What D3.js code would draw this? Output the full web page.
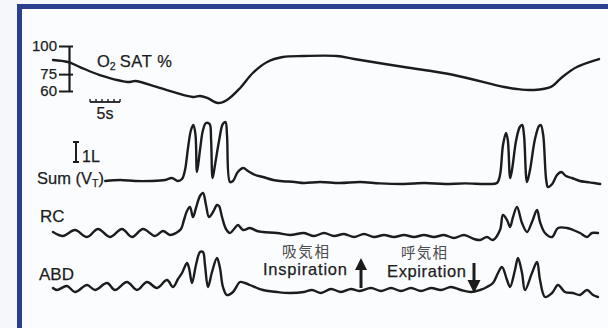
<!DOCTYPE html>
<html>
<head>
<meta charset="utf-8">
<script src="https://cdn.jsdelivr.net/npm/d3@7"></script>
<style>
  html, body { margin: 0; padding: 0; background: #f6f7fa; }
  svg { display: block; }
  text { font-family: "Liberation Sans", Arial, Helvetica, sans-serif; fill: #1d1d1d; stroke: #1d1d1d; stroke-width: 0.25; }
  .jp { font-family: "Noto Sans CJK JP", "Noto Sans CJK SC", sans-serif; fill: #4d4d4d; stroke: none; }
</style>
</head>
<body>
<svg id="chart" width="608" height="328"></svg>
<script>
// Oxygen saturation (%) over time (s)
const satTime   = [0, 2.5, 4.5, 7.8, 12.8, 13.7, 17.8, 23.3, 24.5, 25.7, 27.5, 29.0, 31.2, 33.3, 35.7, 38.3, 41.8, 47.3, 50.2, 58.5, 66.8, 75.2, 77.3, 80.2, 83.0, 84.7, 87.3, 91.0];
const satValues = [87.6, 85.8, 81.3, 74.2, 68.0, 68.9, 62.7, 54.7, 55.6, 53.8, 49.3, 52.0, 62.7, 76.0, 85.8, 90.2, 91.1, 91.1, 88.4, 81.3, 74.2, 63.6, 61.8, 60.9, 63.6, 71.6, 81.3, 88.4];
const satTicks  = [100, 75, 60];

// Summed tidal volume (L) over time (s)
const sumTime   = [8.7, 11.2, 13.7, 16.2, 18.7, 19.8, 20.8, 21.5, 22.0, 22.5, 23.0, 23.4, 23.75, 24.0, 24.5, 25.0, 25.5, 26.1, 26.35, 26.6, 27.0, 27.7, 28.3, 28.75, 29.0, 29.5, 30.0, 30.8, 31.7, 32.5, 33.7, 35.0, 36.7, 37.8, 40.3, 41.8, 44.5, 47.8, 51.2, 54.5, 58.5, 62.0, 65.3, 68.7, 72.3, 74.0, 74.5, 75.0, 75.5, 75.8, 76.2, 76.5, 77.2, 77.8, 78.2, 78.5, 79.0, 79.5, 80.3, 81.0, 81.3, 81.7, 82.2, 82.5, 83.2, 84.0, 84.7, 85.5, 86.5, 87.8, 89.0, 90.2, 91.2];
const sumVolume = [0, 0.05, 0, 0, 0.05, 0.15, 0, 0.1, 0.55, 1.65, 2.55, 2.8, 2.3, 0.45, 1.55, 2.55, 2.9, 2.85, 2.05, 0.15, 0.8, 2.05, 2.85, 2.95, 2.3, -0.05, 0, 0.45, 0.65, 0.5, 0.3, 0.2, 0.05, 0, -0.05, -0.1, -0.05, -0.1, -0.05, -0.12, -0.15, -0.1, -0.15, -0.12, -0.15, -0.1, 0.3, 1.8, 2.4, 2.05, 0.15, 0.55, 2.05, 2.7, 2.8, 2.3, -0.05, 0.55, 2.05, 2.75, 2.8, 2.3, 0.05, -0.3, -0.15, 0.3, 0.45, 0.25, 0.15, 0, -0.05, -0.1, -0.15];

// Rib cage band (L) over time (s)
const rcTime    = [0, 1.67, 3.67, 5.67, 7.5, 9.5, 11.5, 13.17, 15.0, 17.0, 18.33, 19.5, 20.5, 21.33, 21.83, 22.33, 22.83, 23.33, 23.83, 24.5, 25.0, 25.5, 26.0, 26.67, 27.33, 27.67, 28.17, 28.83, 29.5, 30.17, 30.83, 31.67, 32.83, 34.0, 35.0, 37.33, 39.5, 41.83, 43.5, 45.17, 46.83, 48.5, 50.17, 51.83, 53.5, 55.17, 56.83, 58.5, 60.17, 61.83, 63.5, 65.17, 66.83, 68.5, 70.17, 71.17, 72.33, 73.33, 74.5, 75.0, 75.67, 76.17, 76.67, 77.33, 78.17, 79.0, 79.83, 80.67, 81.17, 82.0, 83.17, 84.17, 85.67, 86.67, 87.83, 89.0, 89.83, 90.83];
const rcValues  = [0.1, -0.1, 0.2, -0.15, 0.25, -0.15, 0.25, -0.15, 0.25, -0.1, 0.15, -0.05, 0.05, 0.25, 0.7, 1.15, 1.35, 0.85, 1.3, 1.9, 2.05, 1.45, 0.85, 1.1, 1.45, 1.4, 0.85, 0.25, 0.05, 0.25, 0.45, 0.2, 0.3, 0.15, 0.1, 0.05, -0.05, 0.05, -0.1, 0.05, -0.1, 0, -0.15, 0, -0.15, -0.05, -0.15, -0.05, -0.15, -0.05, -0.15, -0.05, -0.2, -0.05, -0.25, -0.3, -0.15, -0.3, 0.2, 0.95, 0.7, 0.35, 0.85, 1.35, 0.55, 0.1, 0.6, 1.2, 0.6, 0.05, -0.15, 0.3, 0.3, 0.2, 0.05, -0.15, 0.05, 0.05];

// Abdominal band (L) over time (s)
const abdTime   = [0, 0.67, 2.33, 3.67, 5.67, 7.0, 9.0, 10.33, 12.33, 14.0, 15.67, 17.33, 19.0, 20.0, 20.83, 21.5, 22.33, 22.67, 23.17, 23.83, 24.5, 25.0, 25.33, 25.83, 26.5, 27.33, 27.83, 28.33, 29.0, 30.0, 31.17, 32.0, 32.83, 34.0, 35.0, 37.33, 39.5, 41.83, 43.17, 44.67, 46.33, 48.0, 49.67, 51.0, 53.0, 54.67, 56.33, 58.0, 59.67, 61.33, 63.0, 64.67, 66.33, 68.0, 69.67, 71.17, 72.33, 73.33, 74.17, 74.83, 75.67, 76.17, 77.0, 77.5, 78.17, 78.67, 79.83, 80.67, 81.17, 82.0, 83.17, 84.17, 85.33, 86.67, 87.83, 89.0, 90.0, 90.83];
const abdValues = [0.1, 0, 0.2, -0.1, 0.25, 0, 0.35, 0, 0.4, 0, 0.4, 0.1, 0.5, 0.15, 0.55, 0.85, 1.35, 1.1, 0.35, 1.25, 1.9, 1.9, 1.25, 0.15, 0.9, 1.6, 1.1, 0.15, -0.25, -0.1, 0.4, 0.35, 0.25, 0.1, 0, -0.1, -0.15, -0.1, 0, -0.15, 0.05, -0.1, 0.05, -0.05, 0.1, -0.05, 0.1, -0.05, 0.1, -0.05, 0.1, 0, 0.15, 0, -0.1, 0, 0.15, 0.35, 0.85, 1.15, 0.5, 0.15, 1.0, 1.6, 0.85, 0, 0.85, 1.4, 0.5, -0.35, -0.15, 0.25, -0.1, -0.15, -0.25, 0, -0.25, -0.35];

const timeBarSeconds = 5;
const volumeBarLitres = 1;

const svg = d3.select("#chart");
const ink = "#1c1c1c";

// Panel frame
svg.append("rect")
  .attr("x", 19.5).attr("y", 6.5)
  .attr("width", 700).attr("height", 400)
  .attr("fill", "#fbfcfd")
  .attr("stroke", "#2b3f8e").attr("stroke-width", 5);

// Scales
const x = d3.scaleLinear().domain([0, 91.5]).range([53, 602]);
const ySat = d3.scaleLinear().domain([60, 100]).range([91, 46]);
const ySum = d3.scaleLinear().domain([0, 1]).range([181, 161]);
const yRC  = d3.scaleLinear().domain([0, 1]).range([234, 214]);
const yABD = d3.scaleLinear().domain([0, 1]).range([290, 270]);

const curve = d3.curveCatmullRom.alpha(0.5);
function trace(times, values, yScale) {
  const pts = times.map((t, i) => [t, values[i]]);
  svg.append("path")
    .datum(pts)
    .attr("fill", "none")
    .attr("stroke", ink)
    .attr("stroke-width", 2.4)
    .attr("stroke-linejoin", "round")
    .attr("stroke-linecap", "round")
    .attr("d", d3.line().x(d => x(d[0])).y(d => yScale(d[1])).curve(curve));
}

// SpO2 calibration axis
const satAxis = svg.append("g")
  .attr("transform", "translate(69,0)")
  .call(d3.axisLeft(ySat).tickValues(satTicks).tickSizeOuter(0).tickSizeInner(10).tickPadding(2));
satAxis.attr("font-family", null).attr("font-size", null);
satAxis.select(".domain").attr("stroke", ink).attr("stroke-width", 2.2);
satAxis.selectAll(".tick line").attr("stroke", ink).attr("stroke-width", 2).attr("x1", 4).attr("x2", -10);
satAxis.selectAll(".tick text").attr("font-size", 15).attr("fill", ink);

trace(satTime, satValues, ySat);
trace(sumTime, sumVolume, ySum);
trace(rcTime, rcValues, yRC);
trace(abdTime, abdValues, yABD);

// O2 SAT label
const o2 = svg.append("text").attr("x", 97).attr("y", 67).attr("font-size", 16.5);
o2.append("tspan").text("O");
o2.append("tspan").attr("font-size", 10.5).attr("dy", 3).text("2");
o2.append("tspan").attr("dy", -3).attr("dx", 4).attr("letter-spacing", 0.6).text("SAT %");

// 5 s time bar with 1 s ruler ticks
const tb0 = 6.17;
const barY = 102;
svg.append("line")
  .attr("x1", x(tb0)).attr("x2", x(tb0 + timeBarSeconds))
  .attr("y1", barY).attr("y2", barY)
  .attr("stroke", ink).attr("stroke-width", 1.8);
d3.range(0, timeBarSeconds + 1).forEach(s => {
  svg.append("line")
    .attr("x1", x(tb0 + s)).attr("x2", x(tb0 + s))
    .attr("y1", barY).attr("y2", barY - 3)
    .attr("stroke", ink).attr("stroke-width", 1.4);
});
svg.append("text").attr("x", x(tb0 + timeBarSeconds / 2)).attr("y", 119)
  .attr("text-anchor", "middle").attr("font-size", 16).text(timeBarSeconds + "s");

// 1 L volume bar
const vbTop = 142;
const vbH = ySum(0) - ySum(volumeBarLitres);
svg.append("path")
  .attr("d", `M73,${vbTop}H79M76,${vbTop}V${vbTop + vbH}M73,${vbTop + vbH}H79`)
  .attr("stroke", ink).attr("stroke-width", 2).attr("fill", "none");
svg.append("text").attr("x", 82).attr("y", 162).attr("font-size", 16)
  .text(volumeBarLitres + "L");

// Channel labels
const sumLabel = svg.append("text").attr("x", 37).attr("y", 184).attr("font-size", 16.5);
sumLabel.append("tspan").text("Sum (V");
sumLabel.append("tspan").attr("font-size", 10.5).attr("dy", 3).text("T");
sumLabel.append("tspan").attr("dy", -3).text(")");
svg.append("text").attr("x", 40).attr("y", 222).attr("font-size", 17).text("RC");
svg.append("text").attr("x", 39).attr("y", 280).attr("font-size", 17).text("ABD");

// Phase annotations
svg.append("text").attr("class", "jp").attr("x", 282).attr("y", 257).attr("font-size", 14.5)
  .attr("textLength", 47).attr("lengthAdjust", "spacing").text("吸気相");
svg.append("text").attr("x", 263).attr("y", 275).attr("font-size", 16.5)
  .attr("textLength", 84).attr("lengthAdjust", "spacing").text("Inspiration");
svg.append("text").attr("class", "jp").attr("x", 401).attr("y", 258).attr("font-size", 14.5)
  .attr("textLength", 46).attr("lengthAdjust", "spacing").text("呼気相");
svg.append("text").attr("x", 387).attr("y", 277).attr("font-size", 16.5)
  .attr("textLength", 79).attr("lengthAdjust", "spacing").text("Expiration");

// Inspiration (up) and expiration (down) arrows
svg.append("path")
  .attr("d", "M359.5,288V270H355L361,258L367,270H362.5V288Z")
  .attr("fill", ink);
svg.append("path")
  .attr("d", "M472.5,263V280H467.5L474,293L480.5,280H475.5V263Z")
  .attr("fill", ink);
</script>
</body>
</html>
